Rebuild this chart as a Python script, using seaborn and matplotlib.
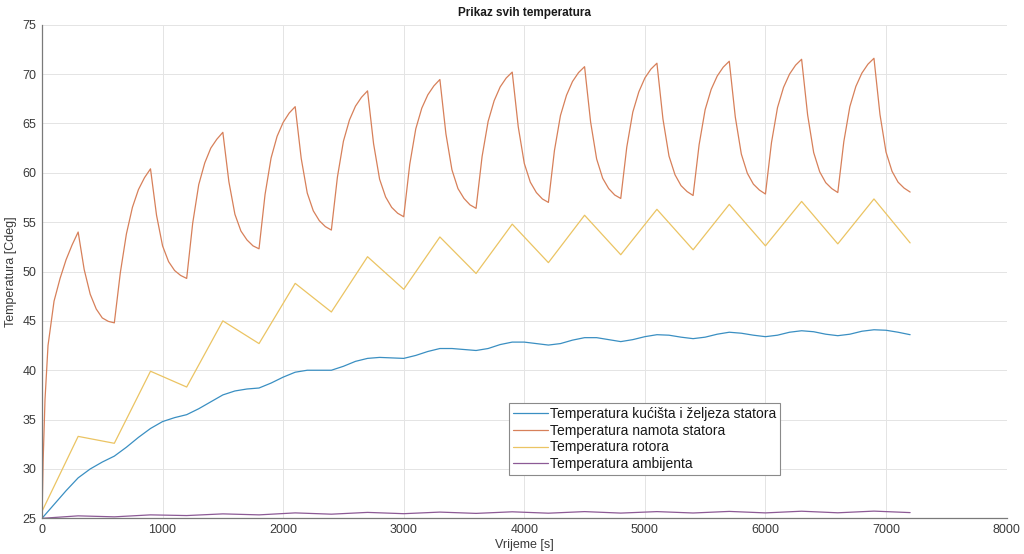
import numpy as np
import pandas as pd
import seaborn as sns
import matplotlib
matplotlib.use("Agg")
import matplotlib.pyplot as plt

sns.set_theme(style="whitegrid")
plt.rcParams['font.family'] = ['Liberation Sans', 'DejaVu Sans']

# time axes (s)
t_kuciste = list(range(0, 7201, 100))
t_namot = [0, 10, 25] + list(range(50, 7201, 50))
t_rotor = list(range(0, 7201, 300))

# Temperatura kucista i zeljeza statora
T_kuciste = [25.0, 26.4, 27.8, 29.1, 30.0, 30.7, 31.3, 32.2, 33.2, 34.1,
             34.8, 35.2, 35.5, 36.1, 36.8, 37.5, 37.9, 38.1, 38.2, 38.7,
             39.3, 39.8, 40.0, 40.0, 40.0, 40.4, 40.9, 41.2, 41.3, 41.25,
             41.2, 41.5, 41.9, 42.2, 42.2, 42.1, 42.0, 42.2, 42.6, 42.85,
             42.85, 42.7, 42.55, 42.7, 43.05, 43.3, 43.3, 43.1, 42.9, 43.1,
             43.4, 43.6, 43.55, 43.35, 43.2, 43.35, 43.65, 43.85, 43.75, 43.55,
             43.4, 43.55, 43.85, 44.0, 43.9, 43.65, 43.5, 43.65, 43.95, 44.1,
             44.05, 43.85, 43.6]

# Temperatura namota statora
T_namot = [25.0, 31.0, 37.0, 42.5, 47.0, 49.3, 51.2, 52.7, 54.0,
           50.2, 47.7, 46.2, 45.3, 44.95, 44.8,
           49.9, 53.8, 56.5, 58.3, 59.5, 60.4,
           55.7, 52.6, 51.0, 50.1, 49.6, 49.3,
           54.9, 58.8, 61.0, 62.5, 63.4, 64.1,
           59.1, 55.8, 54.1, 53.2, 52.6, 52.3,
           57.8, 61.5, 63.7, 65.1, 66.05, 66.7,
           61.45, 57.95, 56.15, 55.15, 54.55, 54.2,
           59.55, 63.2, 65.35, 66.75, 67.65, 68.3,
           62.95, 59.35, 57.55, 56.5, 55.9, 55.55,
           60.85, 64.45, 66.55, 67.9, 68.8, 69.45,
           63.95, 60.3, 58.4, 57.4, 56.75, 56.4,
           61.65, 65.2, 67.3, 68.7, 69.6, 70.2,
           64.65, 60.95, 59.05, 58.0, 57.35, 57.0,
           62.25, 65.8, 67.85, 69.25, 70.15, 70.75,
           65.15, 61.4, 59.45, 58.4, 57.75, 57.4,
           62.6, 66.15, 68.2, 69.6, 70.5, 71.1,
           65.45, 61.7, 59.8, 58.7, 58.1, 57.7,
           62.85, 66.4, 68.45, 69.8, 70.7, 71.3,
           65.65, 61.9, 59.95, 58.85, 58.25, 57.85,
           63.05, 66.6, 68.65, 70.0, 70.9, 71.5,
           65.85, 62.05, 60.1, 59.0, 58.4, 58.0,
           63.15, 66.7, 68.75, 70.1, 71.0, 71.6,
           65.9, 62.1, 60.15, 59.05, 58.45, 58.05]

# Temperatura rotora
T_rotor = [25.7, 33.3, 32.6, 39.9, 38.3, 45.0, 42.7, 48.8, 45.9, 51.5,
           48.2, 53.5, 49.8, 54.8, 50.9, 55.7, 51.7, 56.3, 52.2, 56.8,
           52.6, 57.1, 52.8, 57.35, 52.9]

# Temperatura ambijenta
T_ambijent = [25.0, 25.25, 25.15, 25.35, 25.28, 25.45, 25.35, 25.55, 25.42, 25.6,
              25.47, 25.63, 25.5, 25.66, 25.52, 25.68, 25.53, 25.68, 25.54, 25.7,
              25.55, 25.72, 25.56, 25.73, 25.58]

labels = ['Temperatura kućišta i željeza statora', 'Temperatura namota statora',
          'Temperatura rotora', 'Temperatura ambijenta']
colors = ['#3a8fc2', '#d7805a', '#ebc463', '#8c5a96']

fig = plt.figure(figsize=(10.24, 5.54), dpi=100)
ax = fig.add_axes([0.041, 0.0644, 0.942, 0.891])

sns.lineplot(x=t_kuciste, y=T_kuciste, ax=ax, color=colors[0], lw=0.9, label=labels[0])
sns.lineplot(x=t_namot, y=T_namot, ax=ax, color=colors[1], lw=0.9, label=labels[1])
sns.lineplot(x=t_rotor, y=T_rotor, ax=ax, color=colors[2], lw=0.9, label=labels[2])
sns.lineplot(x=t_rotor, y=T_ambijent, ax=ax, color=colors[3], lw=0.9, label=labels[3])

ax.set_xlim(0, 8000)
ax.set_ylim(25, 75)
ax.set_xticks(range(0, 8001, 1000))
ax.set_yticks(range(25, 76, 5))
ax.grid(True, color='#e4e4e4', linewidth=0.7)
for s in ['top', 'right']:
    ax.spines[s].set_visible(False)
for s in ['left', 'bottom']:
    ax.spines[s].set_color('#7a7a7a')
    ax.spines[s].set_linewidth(0.9)
ax.tick_params(axis='both', direction='in', length=5, width=0.8, color='#7a7a7a',
               labelsize=9, labelcolor='#3a3a3a', pad=4)
ax.set_facecolor('white')

ax.set_title('Prikaz svih temperatura', fontsize=8.5, fontweight='bold', color='#1a1a1a', pad=6)
ax.set_xlabel('Vrijeme [s]', fontsize=9, color='#3a3a3a', labelpad=2)
ax.set_ylabel('Temperatura [Cdeg]', fontsize=9, color='#3a3a3a', labelpad=4)

leg = ax.legend(loc='lower left', bbox_to_anchor=(0.484, 0.087), fontsize=10,
                frameon=True, fancybox=False, edgecolor='#8a8a8a', framealpha=1,
                handlelength=2.5, handletextpad=0.15, labelspacing=0.2,
                borderpad=0.3, borderaxespad=0)
leg.get_frame().set_linewidth(0.8)
for txt in leg.get_texts():
    txt.set_color('#1a1a1a')

fig.savefig('out.png', dpi=100, facecolor='white')
